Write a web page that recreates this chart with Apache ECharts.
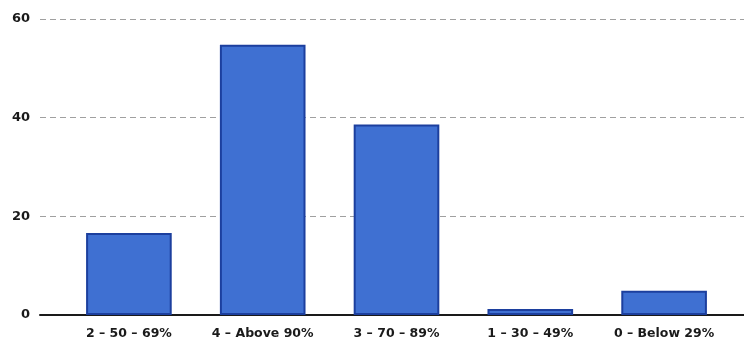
<!DOCTYPE html>
<html><head><meta charset="utf-8">
<script src="https://cdn.jsdelivr.net/npm/echarts@6/dist/echarts.min.js"></script>
<style>html,body{margin:0;padding:0;background:#fff}#c{width:744px;height:347px}</style>
</head><body><div id="c"></div>
<script>
const categories = ['2 – 50 – 69%', '4 – Above 90%', '3 – 70 – 89%', '1 – 30 – 49%', '0 – Below 29%'];
const values = [16.6, 54.8, 38.6, 1.2, 4.9];
const yTicks = [0, 20, 40, 60];

const chart = echarts.init(document.getElementById('c'));
chart.setOption({
  animation: false,
  backgroundColor: '#ffffff',
  grid: [
    {left: 40, right: 0, top: 19, bottom: 32},
    {left: 62, right: 13, top: 19, bottom: 32}
  ],
  xAxis: [
    {gridIndex: 0, type: 'value', min: 0, max: 1, show: true,
     axisLine: {show: true, onZero: true, lineStyle: {color: '#1a1a1a', width: 2}},
     axisTick: {show: false}, axisLabel: {show: false}, splitLine: {show: false}},
    {gridIndex: 1, type: 'category', data: categories,
     axisLine: {show: false}, axisTick: {show: false},
     axisLabel: {margin: 12, color: '#1a1a1a', fontWeight: 'bold', fontSize: 12.5,
       fontFamily: 'DejaVu Sans, sans-serif'}}
  ],
  yAxis: [
    {gridIndex: 0, type: 'value', min: yTicks[0], max: yTicks[yTicks.length - 1], interval: 20,
     axisLine: {show: false}, axisTick: {show: false},
     axisLabel: {margin: 10, color: '#1a1a1a', fontWeight: 'bold', fontSize: 13,
       fontFamily: 'DejaVu Sans, sans-serif'},
     splitLine: {show: true, lineStyle: {color: '#a0a0a0', type: [6, 4], width: 1}}},
    {gridIndex: 1, type: 'value', min: yTicks[0], max: yTicks[yTicks.length - 1], show: false,
     splitLine: {show: false}}
  ],
  series: [{
    type: 'bar', xAxisIndex: 1, yAxisIndex: 1, data: values,
    barCategoryGap: '36%',
    itemStyle: {color: '#3f70d2', borderColor: '#1c3f9e', borderWidth: 2}
  }]
});
</script></body></html>
